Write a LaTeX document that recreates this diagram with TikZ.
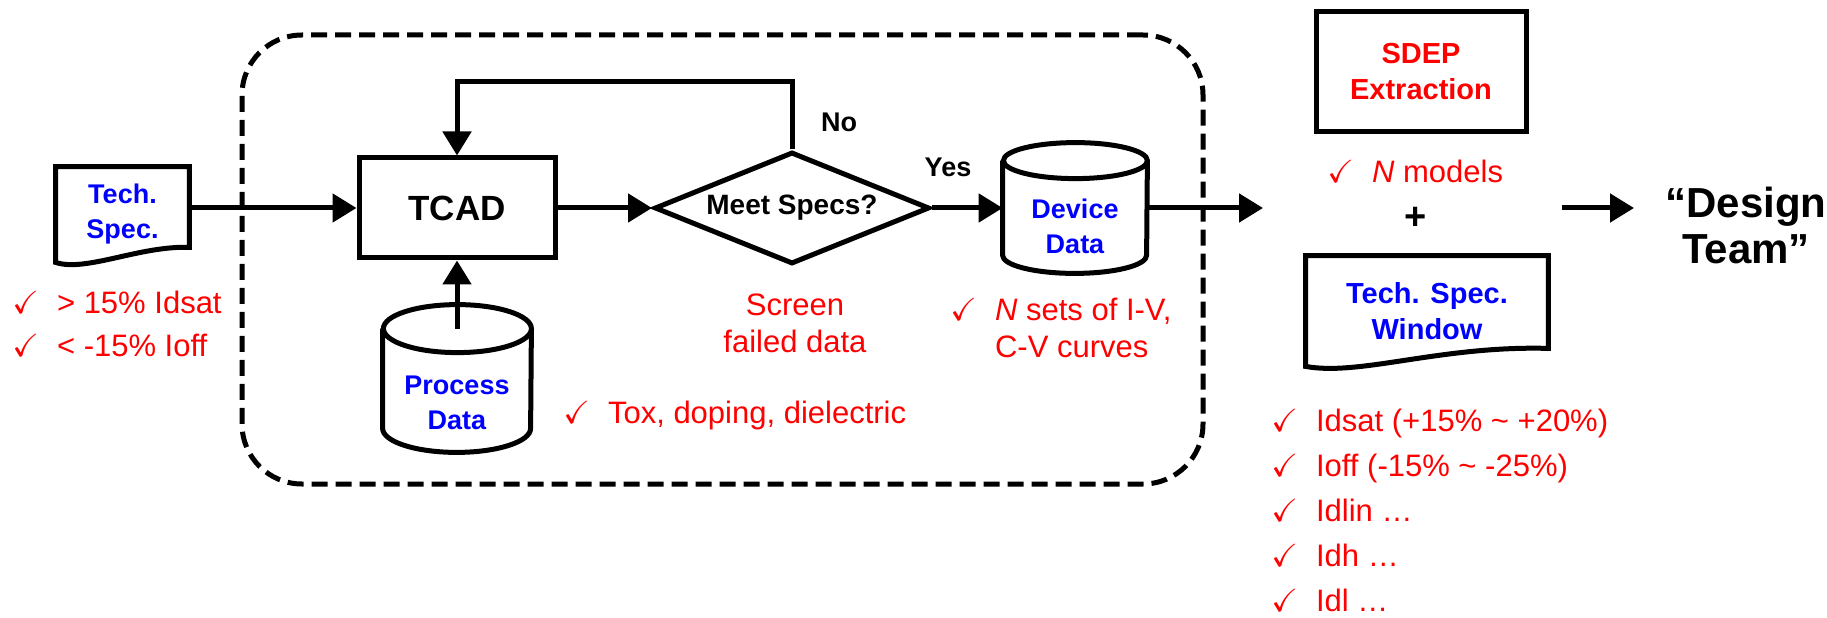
\documentclass[tikz,border=0pt]{standalone}
\usepackage{amssymb}
\usepackage{fontspec}
\setmainfont{Liberation Sans}
\usetikzlibrary{arrows.meta,shapes.geometric,calc}

\newcommand{\chk}{{\fontsize{16}{16}\selectfont$\checkmark$}}

\tikzset{
  outline/.style={line width=2.5pt},
  box/.style={draw,outline,rectangle,inner sep=0pt,align=center},
  doc/.style={inner sep=0pt,text=blue,align=center,font=\bfseries\fontsize{13.5}{17.5}\selectfont},
  frame/.style={draw,line width=2.5pt,dash pattern=on 8pt off 4pt,rounded corners=30pt,inner sep=0pt},
  flow/.style={line width=2.5pt,-{Triangle[length=12pt,width=14pt]}},
  note/.style={inner sep=0pt,text=red,font=\fontsize{15.5}{22.5}\selectfont},
  tag/.style={inner sep=0pt,font=\bfseries\fontsize{13.5}{16}\selectfont}
}

\begin{document}
\begin{tikzpicture}[x=0.5pt,y=0.5pt]
  \useasboundingbox (0,0) rectangle (1827,617);

  % dashed frame round the TCAD loop
  \node[frame,minimum width=480.5pt,minimum height=224.5pt] (loop) at (722.5,357.5) {};

  % Define blocks
  \node[doc,minimum width=66.5pt,minimum height=47.5pt] (spec) at (122.5,402.5) {Tech.\\Spec.};
  \node[box,minimum width=98pt,minimum height=50pt,font=\bfseries\fontsize{17.5}{20}\selectfont] (tcad) at (457,409) {TCAD};
  \node[draw,outline,diamond,aspect=2.3,inner sep=0pt,minimum width=137.5pt,minimum height=56pt,
    font=\bfseries\fontsize{14}{16}\selectfont] (meet) at (792,409) {Meet Specs?};
  % data stores: the node is the body under the top cap
  \node[doc,minimum width=74pt,minimum height=49.5pt] (proc) at (457,214.5) {Process\\Data};
  \node[doc,minimum width=72pt,minimum height=47pt] (dev) at (1075,391) {Device\\Data};
  \node[box,minimum width=105pt,minimum height=60pt,text=red,
    font=\bfseries\fontsize{14.5}{18}\selectfont] (sdep) at (1421,545) {SDEP\\Extraction};
  \node[doc,minimum width=121pt,minimum height=55pt,font=\bfseries\fontsize{14.5}{18}\selectfont] (window) at (1427,306) {Tech. Spec.\\Window};
  \node[inner sep=0pt,align=center,font=\bfseries\fontsize{21}{23}\selectfont] (team) at (1746,392) {“Design\\Team”};

  % document outlines with wavy bottom
  \draw[outline] (spec.south west) -- (spec.north west) -- (spec.north east) -- ($(spec.south east)+(0,15)$)
    .. controls +(-49,2) and +(30,-10) .. (spec.south west) -- cycle;
  \draw[outline] (window.south west) -- (window.north west) -- (window.north east) -- ($(window.south east)+(0,18)$)
    .. controls +(-108,3) and +(54,-10) .. (window.south west) -- cycle;

  % cylinder outlines
  \draw[outline] ($(proc.north west)+(0,24)$) -- ($(proc.south west)+(0,24)$)
    arc[start angle=180,end angle=360,x radius=74,y radius=24] -- ($(proc.north east)+(0,24)$)
    arc[start angle=0,end angle=360,x radius=74,y radius=24];
  \draw[outline] ($(dev.north west)+(0,18)$) -- ($(dev.south west)+(0,18)$)
    arc[start angle=180,end angle=360,x radius=72,y radius=18] -- ($(dev.north east)+(0,18)$)
    arc[start angle=0,end angle=360,x radius=72,y radius=18];

  % Transitions
  \draw[flow] (spec.east |- tcad.west) -- (tcad.west);
  \draw[flow] (tcad.east) -- (meet.west);
  \draw[flow] (meet.north) -- ++(0,68) -| (tcad.north);
  \draw[flow] ($(proc.north)+(0,24)$) -- (tcad.south);
  \draw[flow] (meet.east) -- (meet.east -| dev.west);
  \coordinate (out) at (1263,409);
  \draw[flow] (dev.east |- out) -- (out);
  \coordinate (join) at (1562,409);
  \coordinate (handoff) at (1634,409);
  \draw[flow] (join) -- (handoff);

  % labels
  \node[tag] (no) at (839,495) {No};
  \node[tag] (yes) at (948,450) {Yes};
  \node[note,align=center,font=\fontsize{15.5}{18.5}\selectfont] (screen) at (795,293.5) {Screen\\failed data};
  \node[inner sep=0pt,font=\bfseries\fontsize{19}{19}\selectfont] (plus) at (1416,399) {+};

  % check lists
  \node[note,anchor=west,font=\fontsize{15.5}{21.5}\selectfont] (specnote) at (12,290.5)
    {\begin{tabular}{@{}l@{\hspace{9pt}}l@{}}\chk & > 15\% Idsat\\ \chk & < -15\% Ioff\end{tabular}};
  \node[note,anchor=west] (procnote) at (563,202) {\chk\hspace{9pt}Tox, doping, dielectric};
  \node[note,anchor=west,font=\fontsize{15.5}{18.5}\selectfont] (devnote) at (950,285.5)
    {\begin{tabular}{@{}l@{\hspace{9pt}}l@{}}\chk & \textit{N} sets of I-V,\\ & C-V curves\end{tabular}};
  \node[note,anchor=west] (models) at (1327,446) {\chk\hspace{9pt}\textit{N} models};
  \node[note,anchor=west] (windownote) at (1271,104.5)
    {\begin{tabular}{@{}l@{\hspace{9pt}}l@{}}
      \chk & Idsat (+15\% \textasciitilde{} +20\%)\\
      \chk & Ioff (-15\% \textasciitilde{} -25\%)\\
      \chk & Idlin …\\
      \chk & Idh …\\
      \chk & Idl …
    \end{tabular}};
\end{tikzpicture}
\end{document}
